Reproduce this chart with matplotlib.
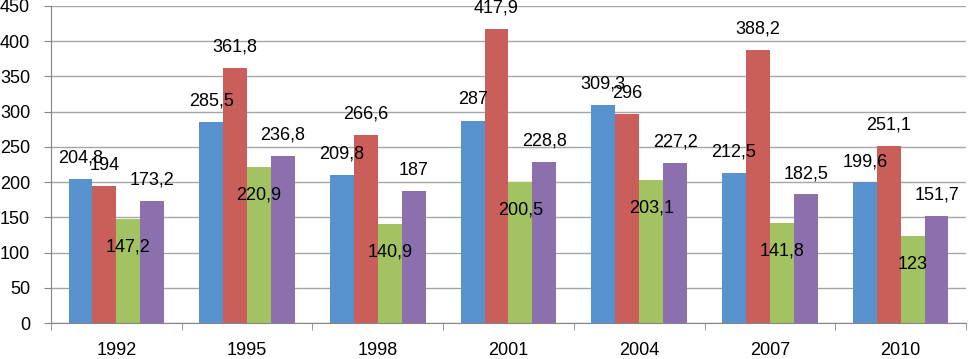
import numpy as np
import matplotlib.pyplot as plt

years = ['1992', '1995', '1998', '2001', '2004', '2007', '2010']
blue_vals = [204.8, 285.5, 209.8, 287, 309.3, 212.5, 199.6]
red_vals = [194, 361.8, 266.6, 417.9, 296, 388.2, 251.1]
green_vals = [147.2, 220.9, 140.9, 200.5, 203.1, 141.8, 123]
purple_vals = [173.2, 236.8, 187, 228.8, 227.2, 182.5, 151.7]

series = [blue_vals, red_vals, green_vals, purple_vals]
colors = ['#5892CE', '#C95E5A', '#A3C262', '#8C70AE']

plt.rcParams['font.family'] = ['Liberation Sans', 'DejaVu Sans']

fig = plt.figure(figsize=(9.68, 3.59), dpi=100)
ax = fig.add_axes([51 / 968, 36 / 359, 915 / 968, 317 / 359])

x = np.arange(len(years))
w = 0.183


def fmt(v):
    s = ('%.1f' % v).rstrip('0').rstrip('.')
    return s.replace('.', ',')


for i, (vals, c) in enumerate(zip(series, colors)):
    xs = x + (i - 1.5) * w
    ax.bar(xs, vals, width=w, color=c, zorder=2)
    for xi, v in zip(xs, vals):
        # green labels sit inside the bar end, the rest above
        off = -20 if i == 2 else 15
        ax.annotate(fmt(v), (xi, v), xytext=(0, off), textcoords='offset points',
                    ha='center', va='center', fontsize=13, color='black', zorder=3)

ax.set_xlim(-0.5, len(years) - 0.5)
ax.set_ylim(0, 450)
ax.set_yticks(np.arange(0, 451, 50))
ax.yaxis.grid(True, color='#A6A6A6', linewidth=1, zorder=0)

ax.set_xticks(x)
ax.set_xticklabels(years)
ax.set_xticks(np.arange(-0.5, len(years), 1), minor=True)
ax.tick_params(axis='x', which='major', length=0, pad=14, labelsize=13)
ax.tick_params(axis='x', which='minor', length=5, color='#868686')
ax.tick_params(axis='y', length=5, color='#868686', pad=10, labelsize=13)

for side in ['top', 'right']:
    ax.spines[side].set_visible(False)
for side in ['left', 'bottom']:
    ax.spines[side].set_color('#868686')

fig.savefig('out.png', dpi=100)
